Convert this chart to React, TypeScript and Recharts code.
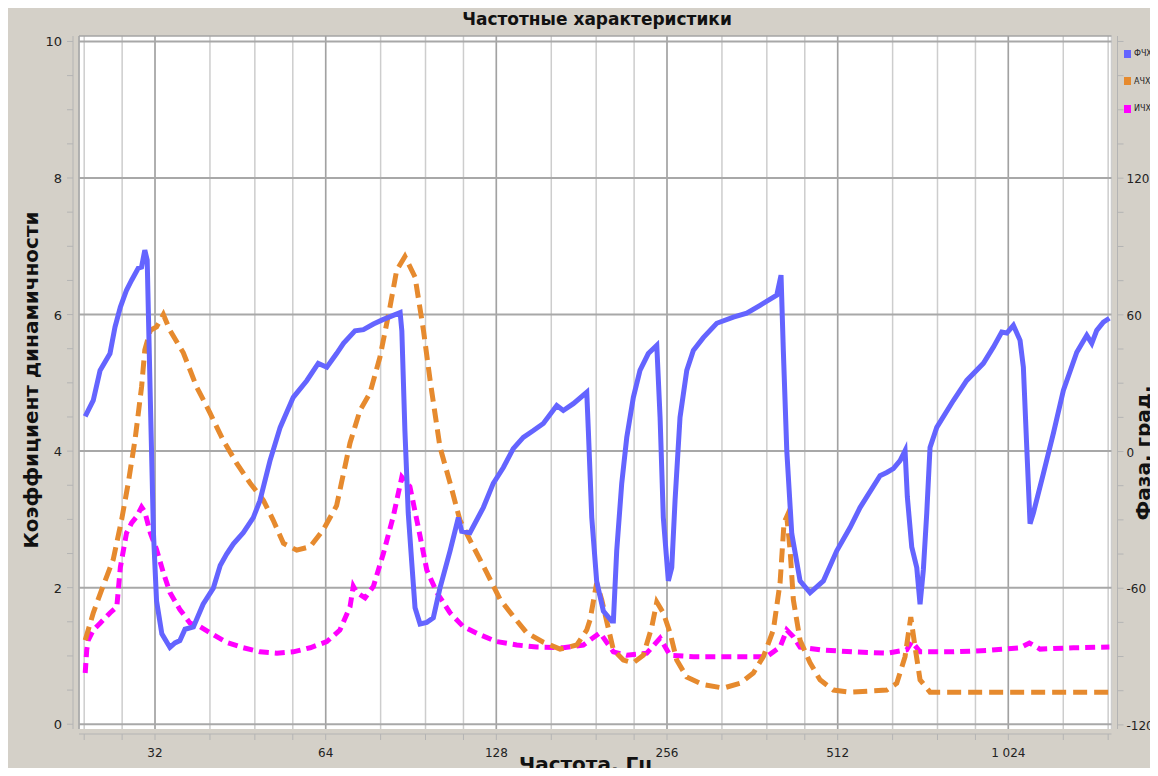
import { LineChart, Line, XAxis, YAxis, CartesianGrid, ReferenceLine } from 'recharts';

// ФЧХ — phase, degrees (right axis)
const phaseFreq = [24.1, 24.9, 25.6, 26.65, 27.2, 27.8, 28.5, 29.1, 29.9, 30.3, 30.7, 31.0, 31.4, 31.8, 32.2, 32.9, 34.0, 34.7, 35.4, 36.15, 37.4, 38.9, 40.55, 41.7, 42.8, 44.0, 45.8, 47.7, 49.0, 51.05, 53.2, 56.1, 59.3, 62.1, 64.3, 66.9, 68.8, 72.1, 74.6, 77.7, 80.9, 86.6, 87.2, 88.3, 89.5, 90.8, 92.0, 93.9, 96.5, 99.1, 101.8, 106.1, 109.7, 111.2, 115.0, 121.4, 126.4, 131.7, 137.1, 142.8, 148.8, 154.9, 163.6, 168.0, 175.0, 184.8, 186.0, 188.6, 192.4, 197.7, 204.5, 205.9, 208.7, 213.0, 217.4, 223.3, 229.4, 237.3, 245.6, 248.9, 252.2, 257.4, 261.0, 264.5, 269.9, 277.4, 284.9, 296.7, 313.3, 335.2, 353.9, 373.6, 399.8, 406.8, 410.6, 416.4, 424.9, 439.5, 457.7, 483.1, 510.1, 538.4, 560.7, 608.2, 625.0, 642.0, 659.7, 673.2, 679.5, 691.8, 706.0, 715.5, 725.1, 735.2, 745.1, 765.7, 819.1, 864.9, 925.2, 963.6, 997.0, 1017.5, 1045.2, 1074.0, 1088.5, 1103.6, 1118.5, 1133.6, 1180.6, 1229.5, 1280.5, 1352.2, 1408.2, 1437.1, 1466.5, 1506.4, 1543.6];
const phaseDeg = [15.4, 22.4, 35.6, 43, 54.6, 63.4, 70.8, 75.2, 80.5, 81, 88.4, 84, 22.4, -36, -65.6, -80, -86, -84, -83, -78, -77, -67, -60, -50, -45, -40.5, -35.6, -29, -21.6, -4, 10.6, 23.8, 31.2, 38.7, 37, 43, 47.5, 53, 53.5, 56, 58, 61, 53, 9, -27, -49, -68.6, -75.7, -75, -73, -60, -43.5, -29, -35, -35.6, -24.6, -14, -7, 1.3, 6.2, 9.2, 12.3, 20.2, 18, 21, 26, 9.2, -29, -57, -70, -74.4, -74.4, -43.6, -14, 6.2, 23.8, 35.6, 43, 46.6, 15, -29, -56.8, -51, -21.6, 15, 35.6, 44.4, 50, 56.3, 59, 60.7, 64.2, 68.6, 77.4, 44.4, 0.4, -36, -56.8, -62, -56.8, -43.6, -33.4, -24.6, -10.6, -9.2, -7.5, -4, 0.4, -20, -42, -51, -67, -52, -27, 1.8, 10.6, 22.4, 31.2, 38.7, 45.8, 52.4, 52, 55.4, 48.8, 37, 1.8, -31.7, -27, -9.7, 8, 26.8, 43.6, 51, 47.5, 53.2, 56.8, 58.5];

// АЧХ — amplitude (left axis)
const ampFreq = [24.1, 24.9, 25.9, 27.0, 27.95, 28.7, 29.5, 30.3, 30.7, 31.4, 32.2, 33.1, 34.0, 35.9, 37.9, 40.0, 42.2, 44.6, 47.1, 49.7, 51.7, 53.9, 56.9, 60.1, 63.4, 66.9, 70.65, 73.6, 76.6, 79.8, 83.1, 85.4, 88.3, 92.0, 95.2, 97.8, 101.8, 106.1, 110.4, 116.6, 123.1, 129.9, 137.1, 144.8, 154.9, 165.8, 177.4, 184.8, 187.3, 192.4, 196.4, 205.9, 214.4, 223.3, 232.5, 240.6, 245.6, 252.2, 259.2, 266.3, 277.4, 296.7, 321.9, 344.4, 363.5, 378.6, 394.3, 405.2, 411.8, 416.4, 422.0, 427.7, 439.5, 457.7, 476.6, 503.1, 538.4, 625.0, 650.9, 673.2, 689.0, 701.1, 715.5, 745.1, 1543.6];
const ampValue = [1.23, 1.63, 2.02, 2.41, 3.0, 3.53, 4.16, 4.94, 5.48, 5.77, 5.82, 6.0, 5.77, 5.44, 4.94, 4.56, 4.16, 3.82, 3.53, 3.28, 2.99, 2.65, 2.55, 2.6, 2.85, 3.2, 4.12, 4.6, 4.85, 5.38, 6.11, 6.65, 6.85, 6.55, 5.77, 5.04, 4.06, 3.53, 2.99, 2.6, 2.22, 1.83, 1.58, 1.34, 1.2, 1.1, 1.16, 1.38, 1.53, 2.07, 1.82, 1.09, 0.94, 0.9, 1.01, 1.42, 1.79, 1.63, 1.34, 0.94, 0.69, 0.58, 0.53, 0.6, 0.75, 0.99, 1.38, 2.07, 2.95, 3.04, 2.56, 1.82, 1.23, 0.9, 0.65, 0.5, 0.47, 0.5, 0.6, 0.99, 1.57, 1.13, 0.65, 0.47, 0.47];

// ИЧХ (left axis)
const impFreq = [24.1, 24.25, 24.4, 24.9, 25.6, 26.65, 27.4, 27.8, 28.5, 29.1, 29.7, 30.3, 30.7, 31.4, 32.2, 33.1, 34.0, 35.4, 36.9, 38.4, 40.0, 42.8, 45.8, 49.0, 52.5, 56.1, 60.1, 64.3, 67.8, 70.65, 71.6, 72.6, 75.1, 77.7, 80.9, 84.2, 87.2, 90.1, 93.2, 96.5, 100.5, 106.1, 111.9, 119.8, 128.2, 139.1, 150.8, 168.0, 182.2, 195.0, 205.9, 217.4, 235.8, 248.9, 259.2, 284.9, 326.3, 383.9, 405.2, 416.4, 427.7, 439.5, 476.6, 545.7, 625.0, 677.9, 691.8, 715.5, 819.1, 938.0, 1074.0, 1115.3, 1164.8, 1333.6, 1543.6];
const impValue = [0.75, 1.09, 1.23, 1.38, 1.48, 1.63, 1.72, 2.3, 2.8, 2.95, 3.04, 3.18, 3.11, 2.8, 2.56, 2.22, 1.93, 1.68, 1.48, 1.43, 1.34, 1.2, 1.12, 1.06, 1.04, 1.06, 1.12, 1.21, 1.38, 1.72, 2.02, 1.93, 1.85, 2.02, 2.5, 3.04, 3.62, 3.48, 2.89, 2.26, 1.93, 1.63, 1.43, 1.31, 1.21, 1.16, 1.13, 1.12, 1.16, 1.34, 1.06, 1.01, 1.04, 1.26, 1.01, 0.99, 0.99, 0.99, 1.13, 1.38, 1.28, 1.13, 1.09, 1.06, 1.04, 1.09, 1.21, 1.06, 1.06, 1.08, 1.12, 1.19, 1.1, 1.12, 1.13];

const xTicks = [24, 28, 32, 40, 48, 56, 64, 80, 96, 112, 128, 160, 192, 224, 256, 320, 384, 448, 512, 640, 768, 896, 1024, 1280, 1536];
const xLabelTicks = [32, 64, 128, 256, 512, 1024];
const leftTicks = [0, 0.5, 1, 1.5, 2, 2.5, 3, 3.5, 4, 4.5, 5, 5.5, 6, 6.5, 7, 7.5, 8, 8.5, 9, 9.5, 10];
const leftLabelTicks = [0, 2, 4, 6, 8, 10];
const rightTicks = [-120, -105, -90, -75, -60, -45, -30, -15, 0, 15, 30, 45, 60, 75, 90, 105, 120, 135, 150, 165, 180];
const rightLabelTicks = [-120, -60, 0, 60, 120];

const series = [
  { name: 'ФЧХ', color: '#6464ff' },
  { name: 'АЧХ', color: '#e68a2e' },
  { name: 'ИЧХ', color: '#ff00ff' },
];

const toRows = (f: number[], v: number[]) => f.map((x, i) => ({ f: x, v: v[i] }));
const phaseRows = toRows(phaseFreq, phaseDeg);
const ampRows = toRows(ampFreq, ampValue);
const impRows = toRows(impFreq, impValue);

const W = 1150;
const H = 768;
const PLOT_LEFT = 71;
const PLOT_TOP = 28;
const PLOT_RIGHT = 1103.5;
const PLOT_BOTTOM = 721;
const FONT = '"DejaVu Sans", Verdana, sans-serif';
const AXIS_GREY = '#b4b4b4';

const fmt = (v: number) => String(v).replace(/\B(?=(\d{3})+(?!\d))/g, ' ');

function BottomTick(props: any) {
  const { x, y, payload } = props;
  const v = payload.value;
  return (
    <g>
      {v === xTicks[0] && <line x1={PLOT_LEFT} x2={PLOT_RIGHT} y1={y + 5} y2={y + 5} stroke={AXIS_GREY} />}
      <line x1={x} x2={x} y1={y + 5} y2={y + 11} stroke={AXIS_GREY} />
      {xLabelTicks.includes(v) && (
        <text x={x} y={y + 28} textAnchor="middle" fontSize={12} fill="#222" fontFamily={FONT}>{fmt(v)}</text>
      )}
    </g>
  );
}

function LeftTick(props: any) {
  const { x, y, payload } = props;
  const v = payload.value;
  return (
    <g>
      {v === 0 && <line x1={x - 6} x2={x - 6} y1={PLOT_TOP} y2={PLOT_BOTTOM} stroke={AXIS_GREY} />}
      <line x1={x - 12} x2={x - 6} y1={y} y2={y} stroke={AXIS_GREY} />
      {leftLabelTicks.includes(v) && (
        <text x={x - 17} y={y + 5} textAnchor="end" fontSize={13} fill="#222" fontFamily={FONT}>{v}</text>
      )}
    </g>
  );
}

function RightTick(props: any) {
  const { x, y, payload } = props;
  const v = payload.value;
  return (
    <g>
      {v === -120 && <line x1={x + 6} x2={x + 6} y1={PLOT_TOP} y2={PLOT_BOTTOM} stroke={AXIS_GREY} />}
      <line x1={x + 6} x2={x + 12} y1={y} y2={y} stroke={AXIS_GREY} />
      {rightLabelTicks.includes(v) && (
        <text x={x + 15} y={y + 5} textAnchor="start" fontSize={12} fill="#222" fontFamily={FONT}>{v}</text>
      )}
    </g>
  );
}

const xDomain = [23.5, 1557];
const leftDomain = [-0.07, 10.08];
const rightDomain = [-121.8, 182.4];

export default function App() {
  return (
    <div style={{ position: 'relative', width: W, height: H, background: '#d4d0c8', overflow: 'hidden', marginBottom: -8, fontFamily: FONT }}>
      <LineChart width={W} height={H} margin={{ top: PLOT_TOP, right: 0, left: 0, bottom: 0 }}>
        <CartesianGrid yAxisId="left" fill="#ffffff" horizontal={false} stroke="#cdcdcd" strokeWidth={1.5} />
        <XAxis
          dataKey="f"
          type="number"
          scale="log"
          domain={xDomain}
          allowDataOverflow
          ticks={xTicks}
          interval={0}
          height={47}
          axisLine={false}
          tickLine={false}
          tickSize={0}
          tickMargin={0}
          tick={<BottomTick />}
        />
        <YAxis
          yAxisId="left"
          type="number"
          domain={leftDomain}
          allowDataOverflow
          ticks={leftTicks}
          interval={0}
          width={PLOT_LEFT}
          axisLine={false}
          tickLine={false}
          tickSize={0}
          tickMargin={0}
          tick={<LeftTick />}
        />
        <YAxis
          yAxisId="right"
          orientation="right"
          type="number"
          domain={rightDomain}
          allowDataOverflow
          ticks={rightTicks}
          interval={0}
          width={W - PLOT_RIGHT}
          axisLine={false}
          tickLine={false}
          tickSize={0}
          tickMargin={0}
          tick={<RightTick />}
        />
        <ReferenceLine yAxisId="left" x={xDomain[0]} stroke="#a4a4a4" strokeWidth={1.5} />
        <ReferenceLine yAxisId="left" y={leftDomain[1]} stroke="#a4a4a4" strokeWidth={1.5} />
        {xLabelTicks.map((t) => (
          <ReferenceLine key={'x' + t} yAxisId="left" x={t} stroke="#a2a2a2" strokeWidth={1.5} />
        ))}
        {leftLabelTicks.map((t) => (
          <ReferenceLine key={'y' + t} yAxisId="left" y={t} stroke="#a8a8a8" strokeWidth={2} />
        ))}
        <Line data={impRows} yAxisId="left" dataKey="v" name="ИЧХ" stroke={series[2].color} strokeWidth={5} strokeDasharray="10 6" dot={false} isAnimationActive={false} />
        <Line data={ampRows} yAxisId="left" dataKey="v" name="АЧХ" stroke={series[1].color} strokeWidth={5} strokeDasharray="14 7" dot={false} isAnimationActive={false} />
        <Line data={phaseRows} yAxisId="right" dataKey="v" name="ФЧХ" stroke={series[0].color} strokeWidth={5} dot={false} isAnimationActive={false} />
      </LineChart>

      <div style={{ position: 'absolute', left: 0, width: 1178, top: 1, textAlign: 'center', fontSize: 17, fontWeight: 'bold', color: '#111' }}>
        Частотные характеристики
      </div>
      <div style={{ position: 'absolute', left: 23, top: 372, transform: 'translate(-50%, -50%) rotate(-90deg)', whiteSpace: 'nowrap', fontSize: 20, fontWeight: 'bold', color: '#111' }}>
        Коэффициент динамичности
      </div>
      <div style={{ position: 'absolute', left: 1135, top: 445, transform: 'translate(-50%, -50%) rotate(-90deg)', whiteSpace: 'nowrap', fontSize: 20, fontWeight: 'bold', color: '#111' }}>
        Фаза, град.
      </div>
      <div style={{ position: 'absolute', left: 578, top: 756, transform: 'translate(-50%, -50%)', whiteSpace: 'nowrap', fontSize: 20, lineHeight: '22px', fontWeight: 'bold', color: '#111' }}>
        Частота, Гц
      </div>
      <div style={{ position: 'absolute', left: 1116, top: 32, width: 34 }}>
        {series.map((s) => (
          <div key={s.name} style={{ display: 'flex', alignItems: 'center', height: 27.5, fontSize: 8, color: '#222', whiteSpace: 'nowrap' }}>
            <span style={{ display: 'inline-block', flex: 'none', width: 7, height: 8, background: s.color, marginRight: 3 }} />
            <span>{s.name}</span>
          </div>
        ))}
      </div>
    </div>
  );
}
